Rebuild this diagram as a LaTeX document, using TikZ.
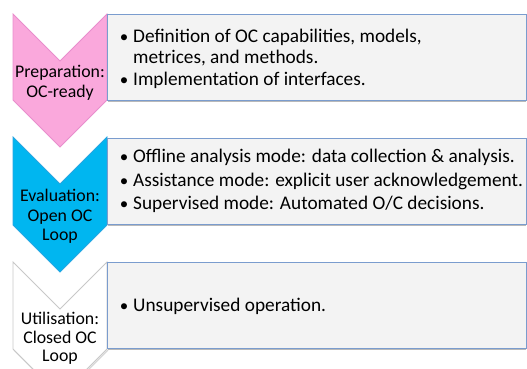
\documentclass[tikz,border=0pt]{standalone}
\usepackage{fontspec}
\setmainfont{Carlito}
\definecolor{pinkfill}{RGB}{250,168,220}
\definecolor{pinkline}{RGB}{232,142,204}
\definecolor{bluefill}{RGB}{0,182,240}
\definecolor{blueline}{RGB}{40,165,225}
\definecolor{whiteline}{RGB}{200,200,200}
\definecolor{boxfill}{RGB}{243,243,243}
\definecolor{boxline}{RGB}{122,156,206}
\definecolor{shadowc}{RGB}{185,185,185}
\begin{document}
\begin{tikzpicture}[x=1pt,y=-1pt,
  boxtext/.style={anchor=base west,inner sep=0pt,font=\fontsize{19.3}{22}\selectfont},
  bullet/.style={anchor=base,inner sep=0pt,font=\fontsize{17}{20}\selectfont},
  chevtext/.style={anchor=base,inner sep=0pt,font=\fontsize{17.8}{20}\selectfont},
  panel/.style={draw=boxline,fill=boxfill,line width=0.9pt},
  panelshadow/.style={draw=shadowc,line width=1.6pt}]
\useasboundingbox (0,0) rectangle (527,368);
% chevrons
\newcommand{\chev}[3]{% top, sidebottom, style
  \path[#3] (13,#1) -- (60,#1+47) -- (107,#1) -- (107,#2) -- (60,#2+47) -- (13,#2) -- cycle;}
\chev{14}{100}{fill=pinkfill,draw=pinkline,line width=0.8pt}
\chev{137}{225}{fill=bluefill,draw=blueline,line width=0.8pt}
\draw[shadowc!60,line width=1.2pt] (14,350) -- (61,397) -- (108,350);
\chev{262}{349}{fill=white,draw=whiteline,line width=0.8pt}
% panels
\draw[panelshadow] (108,101.5) -- (526,101.5);
\draw[panel] (107,14) rectangle (526,100);
\draw[panelshadow] (108,225.5) -- (526,225.5);
\draw[panel] (107,138) rectangle (526,224);
\draw[panelshadow] (108,349.5) -- (526,349.5);
\draw[panel] (107,262) rectangle (526,348);
% chevron labels
\node[chevtext] (p1) at (60,77) {Preparation:};
\node[chevtext] (p2) at (60,97) {OC-ready};
\node[chevtext] (e1) at (60,201) {Evaluation:};
\node[chevtext] (e2) at (60,221) {Open OC};
\node[chevtext] (e3) at (60,240) {Loop};
\node[chevtext] (u1) at (60,324) {Utilisation:};
\node[chevtext] (u2) at (60,343) {Closed OC};
\node[chevtext] (u3) at (60,361) {Loop};
% panel texts
\node[bullet] (b1a) at (124,42) {•};
\node[boxtext] (t1a) at (133,42) {Definition of OC capabilities, models,};
\node[boxtext] (t1b) at (133,63) {metrices, and methods.};
\node[bullet] (b1c) at (124,85) {•};
\node[boxtext] (t1c) at (133,85) {Implementation of interfaces.};
\node[bullet] (b2a) at (124,162) {•};
\node[boxtext] (t2a) at (133,162) {Offline analysis mode: data collection \& analysis.};
\node[bullet] (b2b) at (124,186) {•};
\node[boxtext] (t2b) at (133,186) {Assistance mode: explicit user acknowledgement.};
\node[bullet] (b2c) at (124,209) {•};
\node[boxtext] (t2c) at (133,209) {Supervised mode: Automated O/C decisions.};
\node[bullet] (b3a) at (124,311) {•};
\node[boxtext] (t3a) at (133,311) {Unsupervised operation.};
\end{tikzpicture}
\end{document}
